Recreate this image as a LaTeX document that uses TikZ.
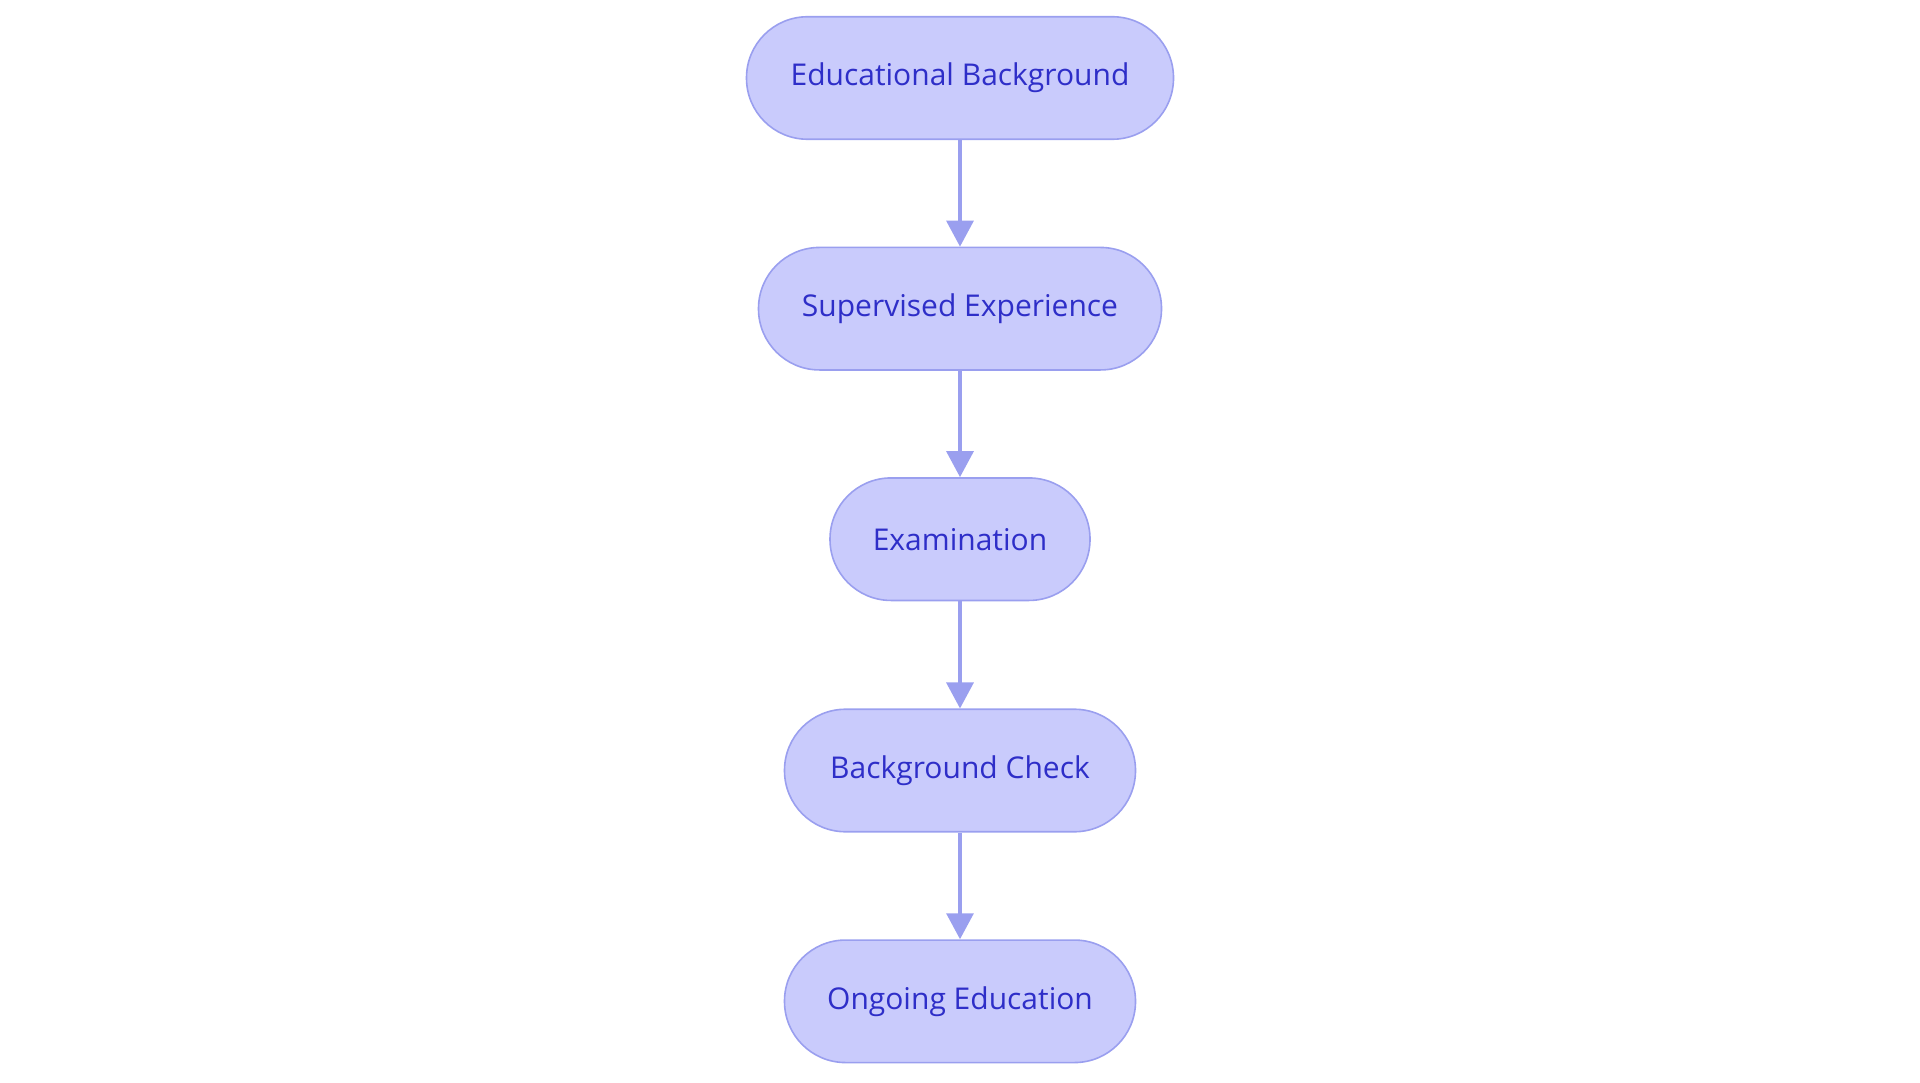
\documentclass[tikz,border=0pt]{standalone}
\usepackage{fontspec}
\setmainfont{Open Sans}
\usetikzlibrary{arrows.meta}
\definecolor{nodefill}{RGB}{201,203,252}
\definecolor{nodeline}{RGB}{154,159,239}
\definecolor{nodetext}{RGB}{46,46,200}
\tikzset{
  stadium/.style={draw=nodeline, fill=nodefill, line width=1.6pt, rounded corners=61pt,
    minimum height=122.5pt, inner sep=0pt, text=nodetext,
    font=\fontsize{30}{35}\selectfont},
  flow/.style={draw=nodeline, line width=3.3pt, -{Triangle[width=27pt,length=26pt]}}
}
\begin{document}
\begin{tikzpicture}[x=1pt,y=-1pt]
\useasboundingbox (0,0) rectangle (1920,1083);
\node[stadium, minimum width=427pt] (edu) at (960,78) {Educational Background};
\node[stadium, minimum width=403pt] (sup) at (960,308.7) {Supervised Experience};
\node[stadium, minimum width=260pt] (exam) at (960,539.2) {Examination};
\node[stadium, minimum width=351pt] (bg) at (960,770.5) {Background Check};
\node[stadium, minimum width=351pt] (ongo) at (960,1001.3) {Ongoing Education};
\draw[flow] (edu) -- (sup);
\draw[flow] (sup) -- (exam);
\draw[flow] (exam) -- (bg);
\draw[flow] (bg) -- (ongo);
\end{tikzpicture}
\end{document}
